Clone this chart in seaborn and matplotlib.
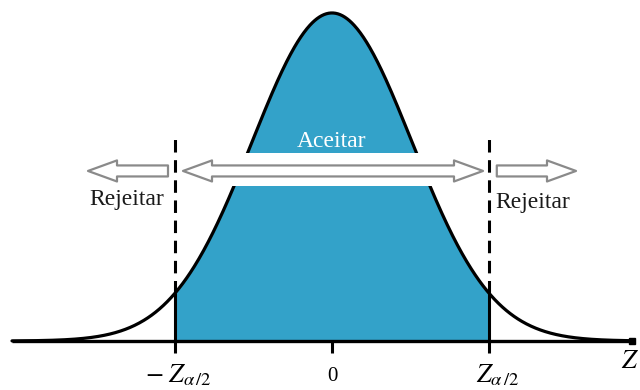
import numpy as np
import pandas as pd
import matplotlib
matplotlib.use("Agg")
import matplotlib.pyplot as plt
import seaborn as sns
from matplotlib.patches import Polygon, Rectangle

# ---- data ----
z_crit = 1.96
x_range = [-4.0, 3.75]
tick_positions = [-z_crit, 0.0, z_crit]
tick_labels = [r"$-\;Z_{\alpha\,/2}$", "0", r"$Z_{\alpha\,/2}$"]
region_labels = ["Rejeitar", "Aceitar", "Rejeitar"]
axis_label = r"$Z$"
fill_color = "#33a2c9"

sns.set_theme(style="white")
plt.rcParams["font.family"] = ["Liberation Serif", "DejaVu Serif"]
plt.rcParams["mathtext.fontset"] = "stix"
plt.rcParams["lines.scale_dashes"] = False


def normal_pdf(v):
    return np.exp(-np.asarray(v) ** 2 / 2) / np.sqrt(2 * np.pi)


x = np.linspace(x_range[0], x_range[1], 800)
df = pd.DataFrame({"z": x, "densidade": normal_pdf(x)})
xf = np.linspace(-z_crit, z_crit, 400)
df_fill = pd.DataFrame({"z": xf, "densidade": normal_pdf(xf)})

fig = plt.figure(figsize=(6.4, 3.9), dpi=100)
ax = fig.add_axes([0, 0, 1, 1])
ax.set_xlim(-4.15, 3.85)
ax.set_ylim(-0.0596, 0.4147)
ax.axis("off")

# shaded acceptance region
ax.fill_between(df_fill["z"], df_fill["densidade"], color=fill_color, lw=0, zorder=1)

# density curve
sns.lineplot(data=df, x="z", y="densidade", color="black", lw=2.3, ax=ax, zorder=3)
ax.set_xlabel("")
ax.set_ylabel("")

pz = float(normal_pdf(z_crit))
# solid edges of fill
ax.vlines([-z_crit, z_crit], 0, pz, color="black", lw=2.2, zorder=3)

# baseline (axis)
ax.plot(x_range, [0, 0], color="black", lw=2.4, zorder=3, solid_capstyle="butt")
ax.plot([x_range[1]], [0], marker="s", ms=5, color="black", zorder=3)

# ticks
ax.vlines(tick_positions, -0.0146, 0, color="black", lw=2.2, zorder=3)

# white band behind the accept arrow
ax.add_patch(Rectangle((-z_crit, 0.1885), 2 * z_crit, 0.0402, fc="white", ec="none", zorder=4))

# dashed critical lines
for t in [-z_crit, z_crit]:
    ax.plot([t, t], [pz, 0.2515], color="black", lw=2.2, dashes=(9, 5.5), zorder=5)


def arrow_poly(x0, x1, yc, left_head, right_head, hs=0.0067, hh=0.0128, L=0.3625):
    pts = []
    if left_head:
        pts += [(x0, yc), (x0 + L, yc + hh), (x0 + L, yc + hs)]
    else:
        pts += [(x0, yc + hs)]
    if right_head:
        pts += [(x1 - L, yc + hs), (x1 - L, yc + hh), (x1, yc), (x1 - L, yc - hh), (x1 - L, yc - hs)]
    else:
        pts += [(x1, yc + hs), (x1, yc - hs)]
    if left_head:
        pts += [(x0 + L, yc - hs), (x0 + L, yc - hh)]
    else:
        pts += [(x0, yc - hs)]
    return Polygon(pts, closed=True, fc="white", ec="#8a8a8a", lw=1.6, joinstyle="round", zorder=6)


yc = 0.2068
ax.add_patch(arrow_poly(-1.8625, 1.8875, yc, True, True))
ax.add_patch(arrow_poly(-3.05, -2.05, yc, True, False))
ax.add_patch(arrow_poly(2.06, 3.05, yc, False, True))

# region labels
ax.text(-2.5625, 0.1715, region_labels[0], fontsize=17, color="#1a1a1a", ha="center", va="center", zorder=7)
ax.text(0.0, 0.2432, region_labels[1], fontsize=17, color="white", ha="center", va="center", zorder=7)
ax.text(2.5125, 0.168, region_labels[2], fontsize=17, color="#1a1a1a", ha="center", va="center", zorder=7)

# tick labels
offsets = [2, 0, 6]
sizes = [19, 15, 19]
ys = [-0.0414, -0.0437, -0.0414]
for pos, lab, dx, fs, yy in zip(tick_positions, tick_labels, offsets, sizes, ys):
    ax.annotate(lab, (pos, yy), xytext=(dx, 0), textcoords="offset points",
                ha="center", va="center", fontsize=fs, color="black", zorder=7)

ax.text(3.84, -0.0255, axis_label, fontsize=19, ha="right", va="center", color="black", zorder=7)

fig.savefig("out.png", dpi=100)
